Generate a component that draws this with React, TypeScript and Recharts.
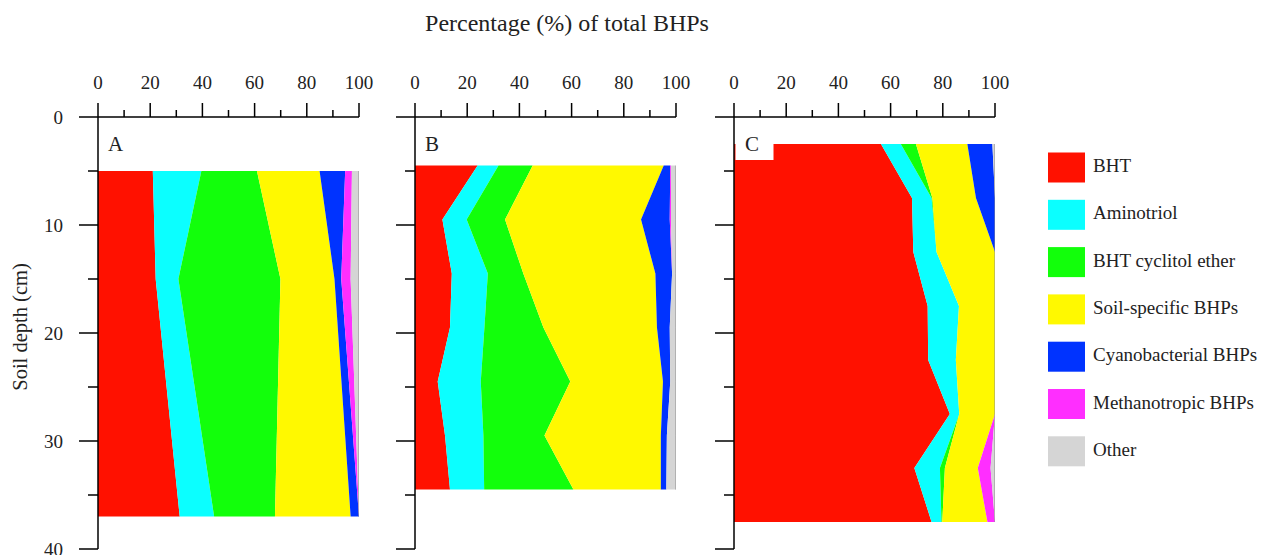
import { AreaChart, Area, XAxis, YAxis } from 'recharts';

const SERIES = [
  'BHT',
  'Aminotriol',
  'BHT cyclitol ether',
  'Soil-specific BHPs',
  'Cyanobacterial BHPs',
  'Methanotropic BHPs',
  'Other',
];
const KEYS = ['bht', 'amino', 'cyclitol', 'soil', 'cyano', 'methano', 'other'];
const COLORS = ['#ff1100', '#0bffff', '#12ff0b', '#fff900', '#0033ff', '#ff2eff', '#d5d5d5'];

const pctTicks = [0, 10, 20, 30, 40, 50, 60, 70, 80, 90, 100];
const depthTicks = [0, 5, 10, 15, 20, 25, 30, 35, 40];

// Panel A
const depthA = [5, 15, 37];
const bhtA = [21.0, 22.1, 31.3];
const aminoA = [18.6, 8.7, 13.2];
const cyclitolA = [21.3, 39.1, 23.3];
const soilA = [24.0, 20.7, 29.0];
const cyanoA = [9.8, 2.6, 3.2];
const methanoA = [2.6, 3.6, 0];
const otherA = [2.7, 3.2, 0];

// Panel B
const depthB = [4.5, 9.5, 14.5, 19.5, 24.5, 29.5, 34.5];
const bhtB = [24.0, 10.5, 14.1, 13.4, 8.7, 11.5, 13.4];
const aminoB = [8.0, 9.3, 13.8, 13.2, 16.5, 14.7, 13.1];
const cyclitolB = [13.1, 14.7, 13.6, 22.6, 34.3, 23.4, 34.2];
const soilB = [50.2, 52.1, 50.6, 43.5, 35.5, 44.6, 33.5];
const cyanoB = [2.5, 11.0, 6.4, 4.9, 2.8, 2.3, 2.1];
const methanoB = [0.3, 0.5, 0, 0, 0, 0, 0];
const otherB = [1.9, 1.9, 1.5, 2.4, 2.2, 3.5, 3.7];

// Panel C
const depthC = [2.5, 7.5, 12.5, 17.5, 22.5, 27.5, 32.5, 37.5];
const bhtC = [56.3, 68.2, 68.7, 74.2, 74.4, 82.7, 69.1, 75.7];
const aminoC = [7.6, 7.5, 8.9, 12.0, 10.6, 3.6, 9.8, 3.8];
const cyclitolC = [5.8, 0.3, 0, 0, 0, 0, 1.9, 0.3];
const soilC = [19.7, 16.7, 22.4, 13.8, 15.0, 13.7, 12.6, 17.3];
const cyanoC = [9.6, 7.3, 0, 0, 0, 0, 0, 0];
const methanoC = [0, 0, 0, 0, 0, 0, 4.9, 2.9];
const otherC = [1.0, 0, 0, 0, 0, 0, 1.7, 0];

function buildRows(depths: number[], cols: number[][]) {
  return depths.map((d, i) => {
    const row: Record<string, number> = { depth: d };
    KEYS.forEach((k, j) => {
      row[k] = cols[j][i];
    });
    return row;
  });
}

const rowsA = buildRows(depthA, [bhtA, aminoA, cyclitolA, soilA, cyanoA, methanoA, otherA]);
const rowsB = buildRows(depthB, [bhtB, aminoB, cyclitolB, soilB, cyanoB, methanoB, otherB]);
const rowsC = buildRows(depthC, [bhtC, aminoC, cyclitolC, soilC, cyanoC, methanoC, otherC]);

const FONT = '"Liberation Serif", "Times New Roman", serif';

function PctTick(props: any) {
  const { x, y, payload } = props;
  const major = payload.value % 20 === 0;
  return (
    <g>
      <line x1={x} x2={x} y1={y} y2={y - (major ? 14 : 7)} stroke="#000" strokeWidth={1.5} />
      {major && (
        <text x={x} y={y - 28} textAnchor="middle" fontSize={19} fontFamily={FONT} fill="#222">
          {payload.value}
        </text>
      )}
    </g>
  );
}

function makeDepthTick(showLabel: boolean) {
  return (props: any) => {
    const { x, y, payload } = props;
    const major = payload.value % 10 === 0;
    return (
      <g>
        <line x1={x} x2={x - (major ? 19 : 10)} y1={y} y2={y} stroke="#000" strokeWidth={1.5} />
        {showLabel && major && (
          <text x={x - 35} y={y} textAnchor="end" dominantBaseline="central" fontSize={19} fontFamily={FONT} fill="#222">
            {payload.value}
          </text>
        )}
      </g>
    );
  };
}

function Panel({ rows, left, axisWidth, showLabels }: { rows: any[]; left: number; axisWidth: number; showLabels: boolean }) {
  return (
    <div style={{ position: 'absolute', left, top: 0 }}>
      <AreaChart
        width={axisWidth + 281}
        height={555}
        data={rows}
        layout="vertical"
        margin={{ top: 77, right: 20, bottom: 6, left: 0 }}
      >
        <XAxis
          type="number"
          orientation="top"
          domain={[0, 100]}
          ticks={pctTicks}
          interval={0}
          height={40}
          tickSize={0}
          tickMargin={0}
          tick={PctTick}
          axisLine={{ stroke: '#000', strokeWidth: 1.5 }}
          allowDataOverflow
        />
        <YAxis
          type="number"
          dataKey="depth"
          domain={[0, 40]}
          ticks={depthTicks}
          interval={0}
          width={axisWidth}
          tickSize={0}
          tickMargin={0}
          tick={makeDepthTick(showLabels)}
          axisLine={{ stroke: '#000', strokeWidth: 1.5 }}
          allowDataOverflow
        />
        {KEYS.map((k, i) => (
          <Area
            key={k}
            dataKey={k}
            name={SERIES[i]}
            stackId="1"
            type="linear"
            fill={COLORS[i]}
            fillOpacity={1}
            stroke={k === 'other' ? '#8c8c8c' : 'none'}
            strokeWidth={1}
            dot={false}
            activeDot={false}
            isAnimationActive={false}
          />
        ))}
      </AreaChart>
    </div>
  );
}

export default function App() {
  return (
    <div style={{ position: 'absolute', left: 0, top: 0, width: 1270, height: 555, background: '#fff', overflow: 'hidden' }}>
      <Panel rows={rowsA} left={0} axisWidth={98} showLabels />
      <Panel rows={rowsB} left={375} axisWidth={40} showLabels={false} />
      <Panel rows={rowsC} left={694} axisWidth={40} showLabels={false} />
      <svg width={1270} height={555} style={{ position: 'absolute', left: 0, top: 0, pointerEvents: 'none' }}>
        <text x={567} y={31} textAnchor="middle" fontSize={24} fontFamily={FONT} fill="#222">
          Percentage (%) of total BHPs
        </text>
        <text transform="translate(27, 327) rotate(-90)" textAnchor="middle" fontSize={20.5} fontFamily={FONT} fill="#222">
          Soil depth (cm)
        </text>
        <text x={108} y={151} fontSize={21} fontFamily={FONT} fill="#222">A</text>
        <text x={425} y={151} fontSize={21} fontFamily={FONT} fill="#222">B</text>
        <rect x={735.5} y={141} width={38} height={19} fill="#fff" />
        <text x={745} y={151} fontSize={21} fontFamily={FONT} fill="#222">C</text>
        {SERIES.map((s, i) => (
          <g key={s}>
            <rect x={1048} y={152.5 + i * 47.3} width={37} height={30} fill={COLORS[i]} />
            <text x={1093} y={172 + i * 47.3} fontSize={19} fontFamily={FONT} fill="#222">
              {s}
            </text>
          </g>
        ))}
      </svg>
    </div>
  );
}
